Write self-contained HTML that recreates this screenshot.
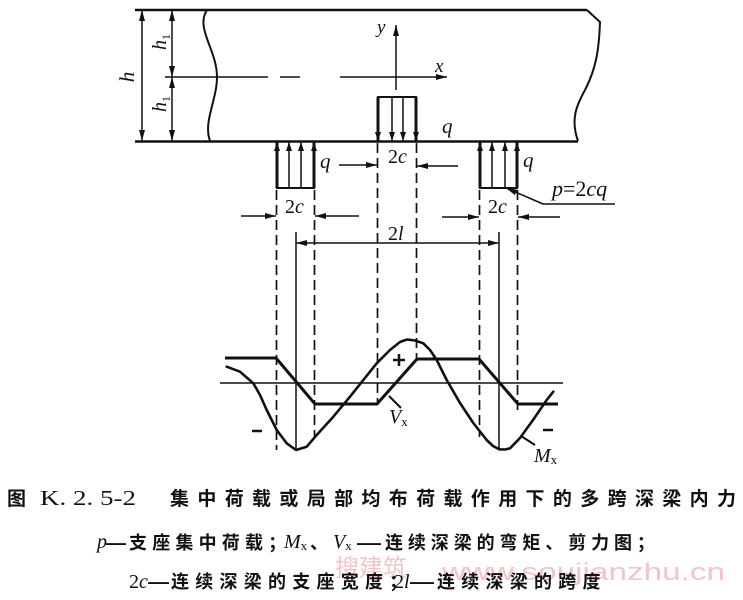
<!DOCTYPE html>
<html><head><meta charset="utf-8"><style>
html,body{margin:0;padding:0;background:#fff;}
svg{display:block;}
.s{font-family:"Liberation Serif",serif;}
.i{font-family:"Liberation Serif",serif;font-style:italic;}
.c{font-family:"Liberation Sans","Noto Sans CJK SC",sans-serif;font-weight:bold;}
</style></head><body>
<svg width="743" height="600" viewBox="0 0 743 600" xmlns="http://www.w3.org/2000/svg">
<defs>
<marker id="a" markerUnits="userSpaceOnUse" markerWidth="11" markerHeight="6" refX="11" refY="3" orient="auto-start-reverse" viewBox="0 0 11 6"><path d="M0,0 L11,3 L0,6 Z" fill="#111"/></marker>
<marker id="b" markerUnits="userSpaceOnUse" markerWidth="9" markerHeight="6" refX="9" refY="3" orient="auto" viewBox="0 0 9 6"><path d="M0,0 L9,3 L0,6 Z" fill="#111"/></marker>
</defs>
<rect width="743" height="600" fill="#fff"/>

<!-- watermark -->
<text x="335" y="576" font-family="'Noto Sans CJK SC',sans-serif" font-size="24" fill="#f4c4c9">搜建筑</text>
<text x="442" y="580" font-family="'Liberation Sans',sans-serif" font-size="24" fill="#f4c4c9" textLength="283" lengthAdjust="spacingAndGlyphs">www.soujianzhu.cn</text>

<g stroke="#111" fill="none">
<!-- beam -->
<line x1="135" y1="10" x2="587" y2="10" stroke-width="2.5"/>
<line x1="135" y1="141.5" x2="578" y2="141.5" stroke-width="2.5"/>
<path d="M207,10 C195,28 217,50 217,77 C217,100 203,122 210,141" stroke-width="2"/>
<path d="M587,10 L600,22 C599,50 596,68 586,88 C577,105 570,118 578,141" stroke-width="2"/>

<!-- mid line & axes -->
<line x1="165" y1="77" x2="268" y2="77" stroke-width="1.5"/>
<line x1="280" y1="77" x2="300" y2="77" stroke-width="1.5"/>
<line x1="340" y1="77" x2="447" y2="77" stroke-width="1.5" marker-end="url(#a)"/>
<line x1="396" y1="90" x2="396" y2="25" stroke-width="1.5" marker-end="url(#a)"/>

<!-- h dims -->
<line x1="142" y1="10" x2="142" y2="141" stroke-width="1.5" marker-start="url(#a)" marker-end="url(#a)"/>
<line x1="172" y1="10" x2="172" y2="77" stroke-width="1.5" marker-start="url(#a)" marker-end="url(#a)"/>
<line x1="172" y1="77" x2="172" y2="141" stroke-width="1.5" marker-start="url(#a)" marker-end="url(#a)"/>

<!-- center load -->
<line x1="377" y1="97" x2="417" y2="97" stroke-width="2"/>
<line x1="378" y1="97" x2="378" y2="141" stroke-width="3" marker-end="url(#b)"/>
<line x1="416" y1="97" x2="416" y2="141" stroke-width="3" marker-end="url(#b)"/>
<line x1="392" y1="97" x2="392" y2="141" stroke-width="1.5" marker-end="url(#b)"/>
<line x1="403" y1="97" x2="403" y2="141" stroke-width="1.5" marker-end="url(#b)"/>

<!-- left support -->
<line x1="276" y1="188" x2="315" y2="188" stroke-width="2"/>
<line x1="277" y1="188" x2="277" y2="142" stroke-width="3" marker-end="url(#b)"/>
<line x1="314" y1="188" x2="314" y2="142" stroke-width="3" marker-end="url(#b)"/>
<line x1="289" y1="188" x2="289" y2="142" stroke-width="1.5" marker-end="url(#b)"/>
<line x1="301" y1="188" x2="301" y2="142" stroke-width="1.5" marker-end="url(#b)"/>

<!-- right support -->
<line x1="479" y1="188" x2="518" y2="188" stroke-width="2"/>
<line x1="480" y1="188" x2="480" y2="142" stroke-width="3" marker-end="url(#b)"/>
<line x1="517" y1="188" x2="517" y2="142" stroke-width="3" marker-end="url(#b)"/>
<line x1="492" y1="188" x2="492" y2="142" stroke-width="1.5" marker-end="url(#b)"/>
<line x1="505" y1="188" x2="505" y2="142" stroke-width="1.5" marker-end="url(#b)"/>

<!-- dashed verticals -->
<g stroke-width="1.7" stroke-dasharray="10,5">
<line x1="276.5" y1="190" x2="276.5" y2="450"/>
<line x1="314.5" y1="190" x2="314.5" y2="437"/>
<line x1="377.5" y1="143" x2="377.5" y2="404"/>
<line x1="416.5" y1="143" x2="416.5" y2="359"/>
<line x1="479.5" y1="190" x2="479.5" y2="437"/>
<line x1="517.5" y1="190" x2="517.5" y2="413"/>
</g>

<!-- solid extension lines -->
<line x1="296" y1="232" x2="296" y2="450" stroke-width="1.5"/>
<line x1="499" y1="232" x2="499" y2="450" stroke-width="1.5"/>

<!-- 2l dim -->
<line x1="296" y1="243" x2="499" y2="243" stroke-width="1.5" marker-start="url(#a)" marker-end="url(#a)"/>

<!-- 2c dims -->
<line x1="339" y1="165" x2="377" y2="165" stroke-width="1.5" marker-end="url(#a)"/>
<line x1="458" y1="166" x2="417" y2="166" stroke-width="1.5" marker-end="url(#a)"/>
<line x1="241" y1="216" x2="276" y2="216" stroke-width="1.5" marker-end="url(#a)"/>
<line x1="359" y1="216" x2="315" y2="216" stroke-width="1.5" marker-end="url(#a)"/>
<line x1="442" y1="217" x2="479" y2="217" stroke-width="1.5" marker-end="url(#a)"/>
<line x1="560" y1="217" x2="518" y2="217" stroke-width="1.5" marker-end="url(#a)"/>

<!-- p leader -->
<line x1="615" y1="204" x2="543" y2="204" stroke-width="1.5"/>
<line x1="543" y1="204" x2="506" y2="188" stroke-width="1.5" marker-end="url(#a)"/>

<!-- diagrams -->
<line x1="220" y1="383" x2="563" y2="383" stroke-width="1.5"/>
<polyline points="225,358 276,358 315,404 377,404 417,359 479,359 518,404 558,404" stroke-width="3" stroke-linejoin="round"/>
<polyline stroke-width="2.6" stroke-linejoin="round" stroke-linecap="round" points="226.7,366.7 240,371.7 253.3,383.3 260,395 266.7,410 276.7,430 286.7,443.3 296,450 306.7,446.7 316.7,435 333.3,416.7 350,396.7 363.3,380 376.7,363.3 390,350 400,342 407,339.5 415,340.5 423.3,343.3 430,350 436.7,360 446.7,380 460,403 473.3,423 486.7,440 493,446 499.3,449.3 505,449.5 510,448.3 520,438 533,420 546.7,400 553.3,391.7"/>

<!-- pointers -->
<line x1="401" y1="408" x2="389" y2="396" stroke-width="2"/>
<line x1="535" y1="445" x2="521" y2="436" stroke-width="2"/>

<!-- signs -->
<line x1="393" y1="360" x2="405" y2="360" stroke-width="2.5"/>
<line x1="399" y1="354" x2="399" y2="366" stroke-width="2.5"/>
<line x1="252" y1="431" x2="262" y2="431" stroke-width="2.5"/>
<line x1="543" y1="430" x2="553" y2="430" stroke-width="2.5"/>
</g>

<g fill="#111">
<!-- h labels -->
<text class="i" font-size="21" transform="translate(134,77) rotate(-90)" text-anchor="middle">h</text>
<text class="i" font-size="20" transform="translate(166,42) rotate(-90)" text-anchor="middle">h<tspan font-size="12" dy="4" font-style="normal">1</tspan></text>
<text class="i" font-size="20" transform="translate(166,104) rotate(-90)" text-anchor="middle">h<tspan font-size="12" dy="4" font-style="normal">1</tspan></text>

<text class="i" font-size="19" x="377" y="33">y</text>
<text class="i" font-size="19" x="435" y="72">x</text>

<text class="i" font-size="21" x="442" y="133">q</text>
<text class="i" font-size="21" x="320" y="168">q</text>
<text class="i" font-size="21" x="523" y="167">q</text>

<text class="s" font-size="20" x="388" y="163">2<tspan class="i">c</tspan></text>
<text class="s" font-size="20" x="285" y="213">2<tspan class="i">c</tspan></text>
<text class="s" font-size="20" x="488" y="213">2<tspan class="i">c</tspan></text>
<text class="s" font-size="20" x="388" y="240">2<tspan class="i">l</tspan></text>

<text class="i" font-size="22" x="552" y="196">p<tspan font-style="normal">=2</tspan>cq</text>

<text class="i" font-size="20" x="389" y="423">V<tspan font-size="13" dy="3" font-style="normal">x</tspan></text>
<text class="i" font-size="20" x="534" y="462">M<tspan font-size="13" dy="2" font-style="normal">x</tspan></text>

<!-- caption line 1 -->
<text class="c" font-size="19" x="7" y="505">图</text>
<text class="s" font-size="21" x="40" y="505" textLength="96" lengthAdjust="spacingAndGlyphs">K. 2. 5-2</text>
<text class="c" font-size="19" x="170" y="505" letter-spacing="8.35">集中荷载或局部均布荷载作用下的多跨深梁内力</text>

<!-- caption line 2 -->
<text class="i" font-size="20" x="97" y="548">p</text>
<text class="c" font-size="18" x="106" y="549" textLength="20" lengthAdjust="spacingAndGlyphs">—</text>
<text class="c" font-size="18" x="129" y="549" letter-spacing="5.2">支座集中荷载；</text>
<text class="i" font-size="20" x="284" y="548">M<tspan font-size="13" dy="2" font-style="normal">x</tspan></text>
<text class="c" font-size="18" x="310" y="549">、</text>
<text class="i" font-size="20" x="333" y="548">V<tspan font-size="13" dy="2" font-style="normal">x</tspan></text>
<text class="c" font-size="18" x="357" y="549" textLength="24" lengthAdjust="spacingAndGlyphs">—</text>
<text class="c" font-size="18" x="385" y="549" letter-spacing="4.9">连续深梁的弯矩、剪力图；</text>

<!-- caption line 3 -->
<text class="s" font-size="20" x="129" y="588">2<tspan class="i">c</tspan></text>
<text class="c" font-size="18" x="148" y="588" textLength="21" lengthAdjust="spacingAndGlyphs">—</text>
<text class="c" font-size="18" x="171" y="588" letter-spacing="6.25">连续深梁的支座宽度；</text>
<text class="s" font-size="20" x="394" y="588">2<tspan class="i">l</tspan></text>
<text class="c" font-size="18" x="410" y="588" textLength="24" lengthAdjust="spacingAndGlyphs">—</text>
<text class="c" font-size="18" x="437" y="588" letter-spacing="6.25">连续深梁的跨度</text>
</g>
</svg>
</body></html>
